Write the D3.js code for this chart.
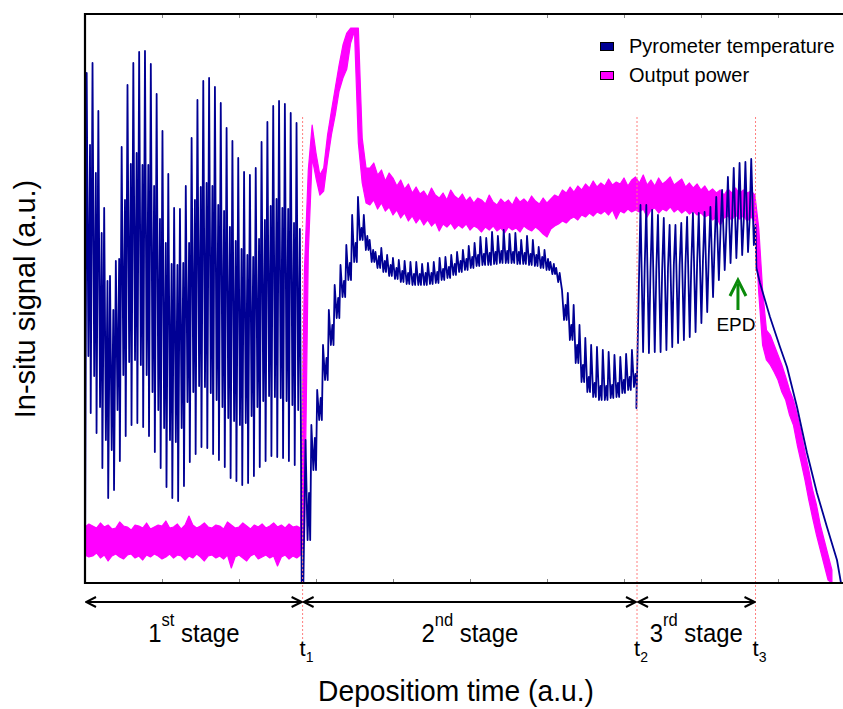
<!DOCTYPE html>
<html>
<head>
<meta charset="utf-8">
<script src="https://cdn.jsdelivr.net/npm/d3@7"></script>
<style>
  body { margin: 0; background: #fff; }
  svg { display: block; }
  text { font-family: "Liberation Sans", Arial, Helvetica, sans-serif; fill: #000; }
</style>
</head>
<body>
<svg id="chart" width="843" height="709"></svg>
<script>
// ---------------------------------------------------------------------------
// Data (time and signal both in arbitrary units)
// ---------------------------------------------------------------------------
const timeTicks = [0, 1, 2, 3, 4, 5, 6, 7, 8, 9, 10];
const stageMarks = [2.826, 7.169, 8.708];          // t1, t2, t3
const stageMarkLabels = ["1", "2", "3"];
const stageNames = [["1", "st"], ["2", "nd"], ["3", "rd"]];
const seriesNames = ["Pyrometer temperature", "Output power"];
const epdTime = 8.48;

// carrier revolution period of the pyrometer oscillation
const rev = 0.0757;

// Pyrometer, 1st stage: one entry per revolution
const s1Start = 0.022;
const s1Peak = [5.10, 5.20, 4.72, 3.75, 3.07, 3.22, 4.36, 4.98, 5.20, 5.31, 5.32, 5.19, 4.89, 4.52, 4.09, 3.75, 3.74, 3.97, 4.45,
  4.83, 5.02, 5.05, 4.96, 4.80, 4.55, 4.42, 4.25, 4.11, 4.08, 4.15, 4.41, 4.61, 4.77, 4.82, 4.79, 4.70, 4.60];
const s1Dip = [2.27, 2.07, 1.76, 1.43, 1.33, 1.73, 2.08, 2.21, 2.23, 2.18, 2.08, 1.91, 1.73, 1.55, 1.43, 1.41, 1.55, 1.81, 1.91,
  1.97, 1.96, 1.90, 1.83, 1.76, 1.65, 1.62, 1.58, 1.60, 1.67, 1.76, 1.82, 1.87, 1.86, 1.85, 1.82, 1.78, 1.73];
const s1Shoulder = [4.38, 4.10, 3.50, 3.02, 2.73, 3.24, 3.83, 4.19, 4.30, 4.18, 4.18, 3.97, 3.64, 3.40, 3.19, 3.18, 3.20, 3.40, 3.83,
  3.96, 4.00, 3.97, 3.78, 3.72, 3.56, 3.42, 3.34, 3.28, 3.26, 3.44, 3.63, 3.77, 3.84, 3.75, 3.74, 3.60, 3.54];
const s1Trough = [1.70, 1.50, 1.15, 0.85, 0.93, 1.22, 1.47, 1.58, 1.60, 1.56, 1.47, 1.31, 1.15, 0.96, 0.85, 0.82, 0.97, 1.21, 1.29,
  1.36, 1.35, 1.29, 1.23, 1.16, 1.05, 1.02, 0.98, 1.00, 1.07, 1.16, 1.22, 1.27, 1.26, 1.25, 1.22, 1.18];

// Pyrometer, 2nd stage: spike, trough and shoulder per revolution
const s2Start = 2.864;
const s2Peak = [1.43, 1.58, 1.93, 2.38, 2.73, 2.98, 3.18, 3.38, 3.68, 3.86, 3.68, 3.43, 3.31, 3.35, 3.28, 3.25, 3.23, 3.22, 3.21,
  3.21, 3.19, 3.20, 3.21, 3.25, 3.26, 3.28, 3.31, 3.33, 3.37, 3.40, 3.46, 3.45, 3.51, 3.47, 3.53, 3.49, 3.50, 3.43, 3.47, 3.43,
  3.36, 3.33, 3.21, 3.15, 2.93, 2.90, 2.78, 2.58, 2.45, 2.38, 2.36, 2.33, 2.31, 2.28, 2.26, 2.29, 2.33];
const s2Trough = [0.43, 1.13, 1.63, 2.03, 2.38, 2.65, 2.86, 3.03, 3.21, 3.43, 3.33, 3.21, 3.15, 3.11, 3.07, 3.04, 3.01, 2.99, 2.98,
  2.98, 2.98, 2.99, 3.00, 3.03, 3.05, 3.08, 3.11, 3.13, 3.15, 3.17, 3.18, 3.18, 3.19, 3.20, 3.20, 3.20, 3.19, 3.19, 3.18, 3.17,
  3.15, 3.13, 3.09, 3.01, 2.63, 2.43, 2.20, 2.01, 1.91, 1.86, 1.83, 1.83, 1.85, 1.86, 1.90, 1.93, 1.96];
const s2Shoulder = [0.90, 1.45, 1.85, 2.25, 2.58, 2.85, 3.02, 3.20, 3.40, 3.55, 3.47, 3.33, 3.27, 3.22, 3.18, 3.15, 3.12, 3.10, 3.09,
  3.09, 3.10, 3.10, 3.11, 3.14, 3.16, 3.19, 3.22, 3.24, 3.26, 3.28, 3.29, 3.30, 3.31, 3.32, 3.32, 3.31, 3.31, 3.30, 3.29, 3.28,
  3.26, 3.24, 3.19, 3.10, 2.78, 2.58, 2.38, 2.18, 2.06, 2.00, 1.97, 1.97, 1.98, 2.00, 2.03, 2.06, 2.09];
const s2EndDip = 1.75;

// Pyrometer, 3rd stage: one entry per revolution
const s3Start = 7.214;
const s3Peak = [3.78, 3.78, 3.73, 3.68, 3.65, 3.58, 3.58, 3.60, 3.66, 3.70, 3.70, 3.71, 3.76, 3.86, 3.93, 4.06, 4.15, 4.20, 4.21, 4.24];
const s3Trough = [2.31, 2.30, 2.31, 2.31, 2.33, 2.36, 2.40, 2.43, 2.46, 2.51, 2.60, 2.71, 2.86, 3.03, 3.13, 3.20, 3.25, 3.28, 3.31, 3.38];
const s3Shoulder = [3.15, 3.13, 3.13, 3.13, 3.15, 3.18, 3.18, 3.19, 3.20, 3.20, 3.23, 3.28, 3.38, 3.51, 3.53, 3.63, 3.66, 3.63, 3.63, 3.58];

// Pyrometer after the end point
const fallTime = [8.720, 8.766, 8.896, 9.026, 9.117, 9.247, 9.377, 9.506, 9.636, 9.766, 9.818];
const fallTemp = [3.15, 3.00, 2.66, 2.36, 2.16, 1.76, 1.30, 0.90, 0.56, 0.23, 0.00];

// Output power: upper / lower edge of the noisy trace, sampled every powerStep
const powerStep = 0.05;
const power1High = [0.56, 0.59, 0.57, 0.55, 0.60, 0.56, 0.58, 0.54, 0.55, 0.61, 0.57, 0.56, 0.53, 0.58, 0.57, 0.55, 0.60, 0.54,
  0.56, 0.58, 0.57, 0.62, 0.55, 0.56, 0.59, 0.54, 0.58, 0.67, 0.58, 0.55, 0.57, 0.60, 0.56, 0.55, 0.58, 0.57, 0.54, 0.61, 0.58,
  0.55, 0.56, 0.60, 0.57, 0.54, 0.58, 0.56, 0.59, 0.55, 0.57, 0.60, 0.56, 0.58, 0.55, 0.59, 0.56, 0.57, 0.55];
const power1Low = [0.28, 0.26, 0.27, 0.30, 0.25, 0.28, 0.22, 0.27, 0.29, 0.26, 0.24, 0.28, 0.29, 0.25, 0.27, 0.23, 0.28, 0.26,
  0.29, 0.27, 0.24, 0.26, 0.29, 0.25, 0.28, 0.27, 0.23, 0.27, 0.25, 0.29, 0.26, 0.22, 0.27, 0.28, 0.25, 0.27, 0.24, 0.28, 0.15,
  0.26, 0.28, 0.25, 0.22, 0.27, 0.29, 0.24, 0.26, 0.28, 0.25, 0.27, 0.17, 0.26, 0.28, 0.24, 0.27, 0.25, 0.28];
const powerRiseHigh = [3.13, 4.13, 4.58, 4.30, 4.08, 4.15, 4.48, 4.72, 4.95, 5.18, 5.38, 5.50, 5.55, 5.55, 5.55, 4.45, 4.15];
const powerRiseLow = [0.43, 3.30, 4.25, 4.05, 3.88, 3.92, 4.22, 4.48, 4.68, 4.92, 5.05, 5.14, 5.40, 5.52, 4.40, 4.00, 3.80];
const power2High = [4.15, 4.20, 4.08, 4.13, 4.02, 4.10, 4.05, 3.97, 4.03, 3.94, 3.99, 3.90, 3.96, 3.89, 3.92, 3.86, 3.95, 3.88,
  3.85, 3.90, 3.83, 3.93, 3.87, 3.84, 3.89, 3.82, 3.86, 3.80, 3.85, 3.83, 3.79, 3.88, 3.81, 3.78, 3.84, 3.80, 3.83, 3.78, 3.86,
  3.81, 3.84, 3.80, 3.87, 3.82, 3.79, 3.85, 3.80, 3.84, 3.88, 3.86, 3.93, 3.90, 3.96, 3.91, 3.97, 3.93, 3.99, 3.95, 4.02, 3.96,
  4.00, 3.97, 4.04, 3.98, 4.01, 3.99, 4.05, 3.97, 4.03, 4.06];
const power2Low = [3.78, 3.83, 3.74, 3.80, 3.72, 3.76, 3.68, 3.73, 3.65, 3.70, 3.62, 3.67, 3.60, 3.65, 3.58, 3.63, 3.57, 3.61,
  3.52, 3.59, 3.56, 3.60, 3.54, 3.58, 3.55, 3.59, 3.53, 3.57, 3.55, 3.51, 3.56, 3.53, 3.57, 3.52, 3.55, 3.50, 3.56, 3.53, 3.55,
  3.51, 3.57, 3.54, 3.52, 3.56, 3.53, 3.49, 3.46, 3.54, 3.57, 3.59, 3.62, 3.60, 3.64, 3.66, 3.63, 3.68, 3.66, 3.70, 3.67, 3.71,
  3.69, 3.72, 3.68, 3.73, 3.64, 3.72, 3.70, 3.74, 3.71, 3.73];
const power3High = [4.00, 4.08, 3.98, 4.03, 3.97, 4.05, 3.99, 4.02, 4.06, 3.98, 4.01, 4.04, 3.96, 4.00, 3.95, 3.99, 3.93, 3.97,
  3.91, 3.94, 3.90, 3.93, 3.88, 3.94, 3.90, 3.95, 3.89, 3.93, 3.90, 3.92, 3.88];
const power3Low = [3.71, 3.74, 3.66, 3.73, 3.75, 3.70, 3.74, 3.72, 3.76, 3.71, 3.74, 3.70, 3.73, 3.69, 3.72, 3.68, 3.70, 3.66,
  3.68, 3.63, 3.66, 3.58, 3.65, 3.67, 3.63, 3.68, 3.64, 3.67, 3.62, 3.66, 3.62];
const powerFallHigh = [3.55, 2.93, 2.53, 2.48, 2.38, 2.28, 2.18, 2.06, 1.93, 1.83, 1.68, 1.51, 1.31, 1.13, 0.93, 0.78, 0.58, 0.43, 0.28, 0.13];
const powerFallLow = [2.90, 2.38, 2.23, 2.18, 2.11, 2.03, 1.91, 1.83, 1.68, 1.58, 1.38, 1.21, 1.03, 0.83, 0.65, 0.48, 0.33, 0.18, 0.03, 0.00];

// ---------------------------------------------------------------------------
// Layout
// ---------------------------------------------------------------------------
const svg = d3.select("#chart");
const plot = { left: 85, right: 855, top: 14, bottom: 583 };
const x = d3.scaleLinear().domain([0, 10]).range([plot.left, plot.right]);
const y = d3.scaleLinear().domain([0, 5.69]).range([plot.bottom, plot.top]);

const colors = { temp: "#000094", power: "#ff00ff", mark: "#ff7f7f", epd: "#0a8a0a" };

const defs = svg.append("defs");
defs.append("clipPath").attr("id", "plotClip")
  .append("rect").attr("x", plot.left).attr("y", plot.top)
  .attr("width", plot.right - plot.left).attr("height", plot.bottom - plot.top);

// ---------------------------------------------------------------------------
// Build the series
// ---------------------------------------------------------------------------
const powerHigh = [].concat(power1High, powerRiseHigh, power2High, power3High, powerFallHigh);
const powerLow = [].concat(power1Low, powerRiseLow, power2Low, power3Low, powerFallLow);
const power = powerHigh.map((h, i) => ({ t: i * powerStep, hi: h, lo: powerLow[i] }));

const temp = [[0, 0]];
s1Peak.forEach((p, k) => {
  const t0 = s1Start + k * rev;
  temp.push([t0, p], [t0 + 0.29 * rev, s1Dip[k]], [t0 + 0.57 * rev, s1Shoulder[k]]);
  if (k < s1Trough.length) temp.push([t0 + 0.69 * rev, s1Trough[k]]);
});
temp.push([stageMarks[0] - 0.012, 0], [stageMarks[0] + 0.01, 0]);
s2Peak.forEach((p, k) => {
  const t0 = s2Start + k * rev;
  temp.push([t0, p], [t0 + 0.35 * rev, s2Trough[k]], [t0 + 0.6 * rev, s2Shoulder[k]], [t0 + 0.8 * rev, s2Trough[k]]);
});
temp.push([stageMarks[1] - 0.008, s2EndDip]);
s3Peak.forEach((p, k) => {
  const t0 = s3Start + k * rev;
  temp.push([t0, p], [t0 + 0.45 * rev, s3Trough[k]], [t0 + 0.72 * rev, s3Shoulder[k]]);
});
fallTime.forEach((t, i) => temp.push([t, fallTemp[i]]));

// ---------------------------------------------------------------------------
// Draw
// ---------------------------------------------------------------------------
const gPlot = svg.append("g").attr("clip-path", "url(#plotClip)");

// stage boundaries (dotted)
svg.append("g").selectAll("line").data(stageMarks).join("line")
  .attr("x1", d => x(d)).attr("x2", d => x(d))
  .attr("y1", 117).attr("y2", 640)
  .attr("stroke", colors.mark).attr("stroke-width", 1)
  .attr("stroke-dasharray", "2,2");

// output power
gPlot.append("path").datum(power)
  .attr("d", d3.area().x(d => x(d.t)).y0(d => y(d.lo)).y1(d => y(d.hi)))
  .attr("fill", colors.power).attr("stroke", colors.power).attr("stroke-width", 1.2)
  .attr("stroke-linejoin", "round");

// pyrometer temperature
gPlot.append("path").datum(temp)
  .attr("d", d3.line().x(d => x(d[0])).y(d => y(d[1])))
  .attr("fill", "none").attr("stroke", colors.temp).attr("stroke-width", 1.8)
  .attr("stroke-linejoin", "round");

// axes: inner ticks only, frame drawn separately
svg.append("g").attr("transform", `translate(0,${plot.bottom})`)
  .call(d3.axisTop(x).tickValues(timeTicks).tickSize(4).tickFormat(""))
  .call(g => g.select(".domain").remove())
  .call(g => g.selectAll("line").attr("stroke", "#888"));
svg.append("g").attr("transform", `translate(0,${plot.top})`)
  .call(d3.axisBottom(x).tickValues(timeTicks).tickSize(4).tickFormat(""))
  .call(g => g.select(".domain").remove())
  .call(g => g.selectAll("line").attr("stroke", "#888"));

svg.append("path")
  .attr("d", `M${plot.right},${plot.top}H${plot.left}V${plot.bottom}H${plot.right}`)
  .attr("fill", "none").attr("stroke", "#000").attr("stroke-width", 2.2);

// stage arrows
["start", "end"].forEach(kind => {
  defs.append("marker").attr("id", "chev-" + kind)
    .attr("viewBox", "0 0 12 12").attr("refX", kind === "end" ? 11 : 1).attr("refY", 6)
    .attr("markerWidth", 12).attr("markerHeight", 12).attr("markerUnits", "userSpaceOnUse")
    .attr("orient", "auto")
    .append("path")
    .attr("d", kind === "end" ? "M1,1L11,6L1,11" : "M11,1L1,6L11,11")
    .attr("fill", "none").attr("stroke", "#000").attr("stroke-width", 2);
});
const stageBounds = [0].concat(stageMarks);
const arrowY = 602;
svg.append("g").selectAll("line").data(stageMarks).join("line")
  .attr("x1", (d, i) => x(stageBounds[i]) + 1).attr("x2", d => x(d) - 1)
  .attr("y1", arrowY).attr("y2", arrowY)
  .attr("stroke", "#000").attr("stroke-width", 2)
  .attr("marker-start", "url(#chev-start)").attr("marker-end", "url(#chev-end)");

// stage names (slightly condensed lettering)
const stageText = svg.append("g").selectAll("text").data(stageNames).join("text")
  .attr("transform", (d, i) => `translate(${(x(stageBounds[i]) + x(stageMarks[i])) / 2},642) scale(0.92,1)`)
  .attr("text-anchor", "middle").attr("font-size", 26);
stageText.append("tspan").text(d => d[0]);
stageText.append("tspan").attr("dy", -16).attr("font-size", 18).text(d => d[1]);
stageText.append("tspan").attr("dy", 16).text(" stage");

// t1, t2, t3
const markText = svg.append("g").selectAll("text").data(stageMarks).join("text")
  .attr("x", d => x(d) - 3).attr("y", 656).attr("font-size", 22);
markText.append("tspan").text("t");
markText.append("tspan").attr("dy", 6).attr("font-size", 14).text((d, i) => stageMarkLabels[i]);

// axis titles
svg.append("text").attr("transform", "translate(456,701) scale(0.94,1)").attr("text-anchor", "middle")
  .attr("font-size", 30).text("Depositiom time (a.u.)");
svg.append("text").attr("transform", "translate(35,299) rotate(-90)").attr("text-anchor", "middle")
  .attr("font-size", 29).text("In-situ signal (a.u.)");

// EPD marker
const epdX = x(epdTime);
svg.append("line").attr("x1", epdX).attr("x2", epdX).attr("y1", 310).attr("y2", 284)
  .attr("stroke", colors.epd).attr("stroke-width", 3);
svg.append("path").attr("d", `M${epdX - 8},${296}L${epdX},${280}L${epdX + 8},${296}`)
  .attr("fill", "none").attr("stroke", colors.epd).attr("stroke-width", 3);
svg.append("text").attr("x", epdX - 2).attr("y", 331).attr("text-anchor", "middle")
  .attr("font-size", 19).text("EPD");

// legend
const legend = svg.append("g").attr("transform", "translate(600,39)");
const legendRows = legend.selectAll("g").data(seriesNames).join("g")
  .attr("transform", (d, i) => `translate(0,${i * 29})`);
legendRows.append("rect").attr("x", 0.5).attr("y", 3.5).attr("width", 13).attr("height", 8)
  .attr("fill", (d, i) => i === 0 ? colors.temp : colors.power).attr("stroke", "#000").attr("stroke-width", 1);
legendRows.append("text").attr("x", 29).attr("y", 14).attr("font-size", 20).text(d => d);
</script>
</body>
</html>
